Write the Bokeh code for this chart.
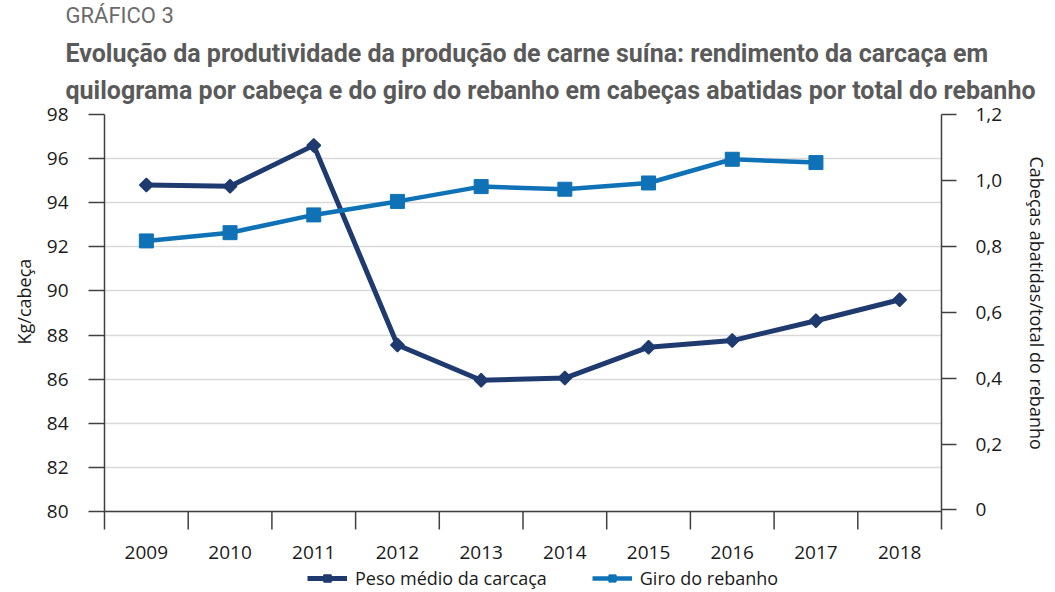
import numpy as np
from bokeh.plotting import figure
from bokeh.models import (Range1d, LinearAxis, FixedTicker, CustomJSTickFormatter,
                          Legend, LegendItem, Title, Span)
from bokeh.core.properties import value
from bokeh.embed import file_html
from bokeh.resources import INLINE

# ---- data ----
years = ["2009", "2010", "2011", "2012", "2013", "2014", "2015", "2016", "2017", "2018"]
peso = [94.8, 94.75, 96.6, 87.55, 85.95, 86.05, 87.45, 87.75, 88.65, 89.6]
giro_years = ["2009", "2010", "2011", "2012", "2013", "2014", "2015", "2016", "2017"]
giro = [0.817, 0.842, 0.896, 0.937, 0.982, 0.974, 0.993, 1.065, 1.055]
left_ticks = [80, 82, 84, 86, 88, 90, 92, 94, 96, 98]
right_ticks = [0, 0.2, 0.4, 0.6, 0.8, 1.0, 1.2]
right_tick_labels = ["0", "0,2", "0,4", "0,6", "0,8", "1,0", "1,2"]

pos = {y: i + 0.5 for i, y in enumerate(years)}
x_peso = [pos[y] for y in years]
x_giro = [pos[y] for y in giro_years]
n = len(years)

PESO_C = "#1f3a6e"
GIRO_C = "#1072b6"
AX_C = "#404040"
TXT_C = "#1a1a1a"
FONT = "Open Sans"
FS = "19px"

# geometry: plot area 80..98 spans 397 px; the frame extends below it to hold
# the category labels and the legend
FRAME_H = 479
PX_PER_UNIT = 397 / 18.0
y_lo, y_hi = 80, 98
y_start = y_hi - FRAME_H / PX_PER_UNIT
G_PX = 329.2
g_hi = 1.201
g_start = g_hi - FRAME_H / G_PX
tick_len = 18 / PX_PER_UNIT

p = figure(frame_width=837, frame_height=FRAME_H,
           min_border_left=104, min_border_right=114,
           min_border_top=113, min_border_bottom=0,
           x_range=Range1d(0, n), y_range=Range1d(y_start, y_hi),
           x_axis_location=None,
           output_backend="svg", toolbar_location=None,
           background_fill_color="white", border_fill_color="white")
p.outline_line_color = None
p.extra_y_ranges = {"giro": Range1d(g_start, g_hi)}

# left axis
ya = p.yaxis[0]
ya.ticker = FixedTicker(ticks=left_ticks)
ya.bounds = (y_lo - tick_len, y_hi)
ya.major_tick_out = 16
ya.major_tick_in = 0
ya.minor_tick_out = 0
ya.minor_tick_in = 0
ya.major_tick_line_color = AX_C
ya.major_tick_line_width = 1.5
ya.axis_line_color = AX_C
ya.axis_line_width = 1.5
ya.major_label_text_font = FONT
ya.major_label_text_font_size = FS
ya.major_label_text_color = TXT_C
ya.major_label_standoff = 20

# right axis
ra = LinearAxis(y_range_name="giro", ticker=FixedTicker(ticks=right_ticks),
                formatter=CustomJSTickFormatter(
                    args=dict(vals=right_ticks, labs=right_tick_labels),
                    code="for (let i = 0; i < vals.length; i++) { if (Math.abs(tick - vals[i]) < 1e-6) return labs[i]; } return '';"))
ra.bounds = (-(528 - 508.3) / G_PX, g_hi)
ra.major_tick_out = 15
ra.major_tick_in = 0
ra.minor_tick_out = 0
ra.minor_tick_in = 0
ra.major_tick_line_color = AX_C
ra.major_tick_line_width = 1.5
ra.axis_line_color = AX_C
ra.axis_line_width = 1.5
ra.major_label_text_font = FONT
ra.major_label_text_font_size = FS
ra.major_label_text_color = TXT_C
ra.major_label_standoff = 19
p.add_layout(ra, "right")

# axis titles as side titles
p.add_layout(Title(text="Kg/cabeça", align="left", offset=249, standoff=16,
                   text_font=FONT, text_font_size="18px", text_font_style="normal",
                   text_color=TXT_C), "left")
p.add_layout(Title(text="Cabeças abatidas/total do rebanho", align="left", offset=42,
                   standoff=38, text_font=FONT, text_font_size="18px",
                   text_font_style="normal", text_color=TXT_C), "right")

# grid
for g in p.grid:
    if g.dimension == 0:
        g.visible = False
    else:
        g.ticker = FixedTicker(ticks=left_ticks)
        g.grid_line_color = "#d9d9d9"
        g.grid_line_width = 1.5

# category axis: base line, separators, labels
p.add_layout(Span(location=y_lo, dimension="width", line_color=AX_C, line_width=1.5))
seps = list(range(1, n))
p.segment(x0=seps, y0=[y_lo] * len(seps), x1=seps, y1=[y_lo - tick_len] * len(seps),
          line_color=AX_C, line_width=1.5)
p.text(x=x_peso, y=[y_lo - 41 / PX_PER_UNIT] * n, text=years,
       text_font=value(FONT), text_font_size=value(FS), text_color=TXT_C,
       text_align="center", text_baseline="middle")

# series
l1 = p.line(x_peso, peso, line_color=PESO_C, line_width=5)
s1 = p.scatter(x_peso, peso, marker="square", size=9.5, angle=np.pi / 4,
               fill_color=PESO_C, line_color=PESO_C, line_width=1.5)
l2 = p.line(x_giro, giro, line_color=GIRO_C, line_width=4.5, y_range_name="giro")
s2 = p.scatter(x_giro, giro, marker="square", size=14, fill_color=GIRO_C,
               line_color=GIRO_C, y_range_name="giro")

legend = Legend(items=[LegendItem(label="Peso médio da carcaça", renderers=[l1, s1]),
                       LegendItem(label="Giro do rebanho", renderers=[l2, s2])],
                location=(203, 3), orientation="horizontal",
                glyph_width=40, glyph_height=18, label_height=18,
                label_standoff=8, spacing=45, padding=0, margin=0,
                border_line_color=None, background_fill_alpha=0,
                label_text_font=FONT, label_text_font_size="18px",
                label_text_color=TXT_C)
p.add_layout(legend)

# titles (added innermost first)
t_main = Title(text="Evolução da produtividade da produção de carne suína: rendimento da carcaça em\n"
                    "quilograma por cabeça e do giro do rebanho em cabeças abatidas por total do rebanho",
               align="left", offset=-39, standoff=19, text_font="Roboto",
               text_font_size="25px", text_font_style="bold", text_color="#5a5a5a",
               text_line_height=1.28)
t_head = Title(text="GRÁFICO 3", align="left", offset=-39, standoff=0,
               text_font="Roboto", text_font_size="22px", text_font_style="normal",
               text_color="#6b6b6b", text_line_height=1.0)
p.add_layout(t_main, "above")
p.add_layout(t_head, "above")

open("out.html", "w").write(file_html(p, INLINE))
